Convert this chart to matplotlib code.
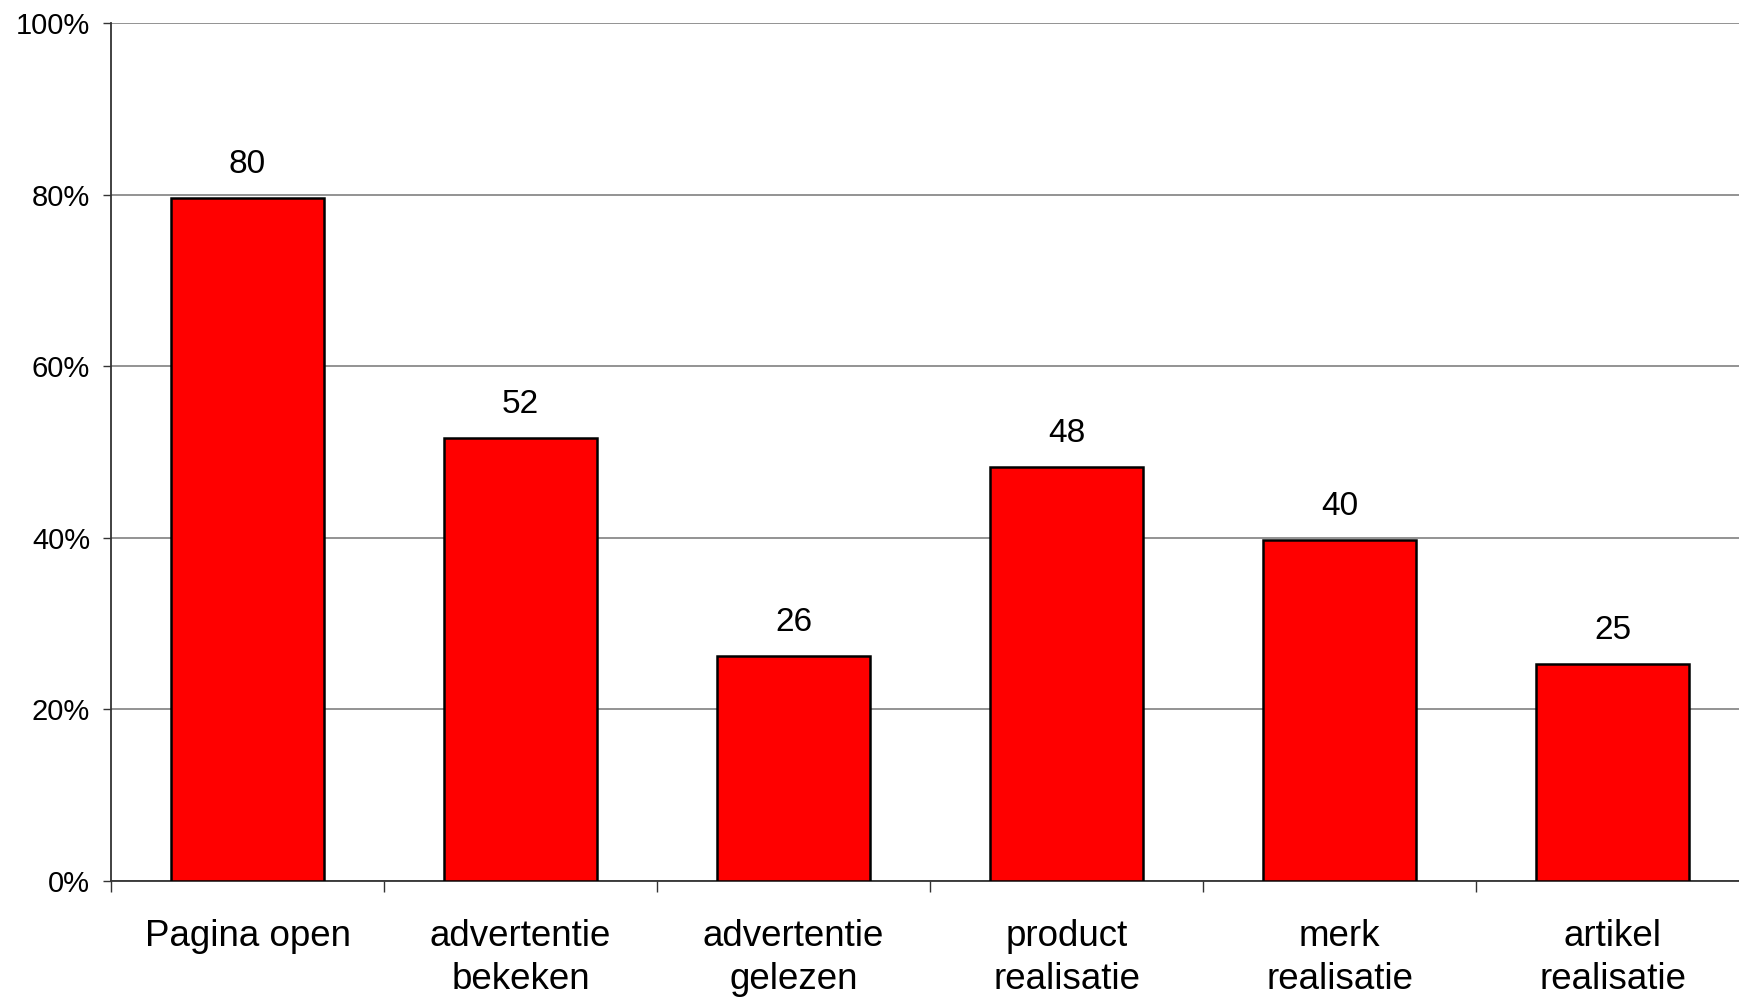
import matplotlib
matplotlib.use('Agg')
import matplotlib.pyplot as plt
import numpy as np
from matplotlib.ticker import FixedLocator, PercentFormatter

# dados do gráfico
categorias = ['Pagina open', 'advertentie\nbekeken', 'advertentie\ngelezen',
              'product\nrealisatie', 'merk\nrealisatie', 'artikel\nrealisatie']
percentuais = [79.6, 51.6, 26.2, 48.2, 39.8, 25.3]
yticks = [0, 20, 40, 60, 80, 100]

plt.rcParams['font.family'] = ['Liberation Sans', 'DejaVu Sans']

fig = plt.figure(figsize=(17.4, 9.98), dpi=100)
ax = fig.add_axes([0.0638, 0.1172, 0.9414, 0.8597])

x = np.arange(len(categorias))
bars = ax.bar(x, percentuais, width=0.56, color='#FF0000', edgecolor='black',
              linewidth=1.8, zorder=3)

# rótulos de valor acima das barras
for bar, v in zip(bars, percentuais):
    ax.annotate(f'{v:.0f}', (bar.get_x() + bar.get_width() / 2, v),
                xytext=(0, 13), textcoords='offset points',
                ha='center', va='bottom', fontsize=24)

ax.set_xlim(-0.5, len(categorias) - 0.5)
ax.set_ylim(0, 100)
ax.set_yticks(yticks)
ax.yaxis.set_major_formatter(PercentFormatter(decimals=0))
ax.tick_params(axis='y', labelsize=21, length=6, width=1, pad=9, color='#333333')
ax.yaxis.grid(True, color='#808080', linewidth=1.2, zorder=0)

# separadores entre categorias + rótulos centrados
ax.xaxis.set_major_locator(FixedLocator(np.arange(len(categorias) + 1) - 0.5))
ax.xaxis.set_major_formatter(plt.NullFormatter())
ax.xaxis.set_minor_locator(FixedLocator(x))
ax.set_xticklabels(categorias, minor=True, fontsize=26.5, linespacing=1.3)
ax.tick_params(axis='x', which='major', length=8, width=1, color='#333333')
ax.tick_params(axis='x', which='minor', length=0, pad=27)

for s in ['top', 'right']:
    ax.spines[s].set_visible(False)
ax.spines['left'].set_color('#333333')
ax.spines['bottom'].set_color('#333333')
ax.spines['left'].set_linewidth(1.3)
ax.spines['bottom'].set_linewidth(1.3)

plt.savefig('out.png', dpi=100)
plt.close(fig)
